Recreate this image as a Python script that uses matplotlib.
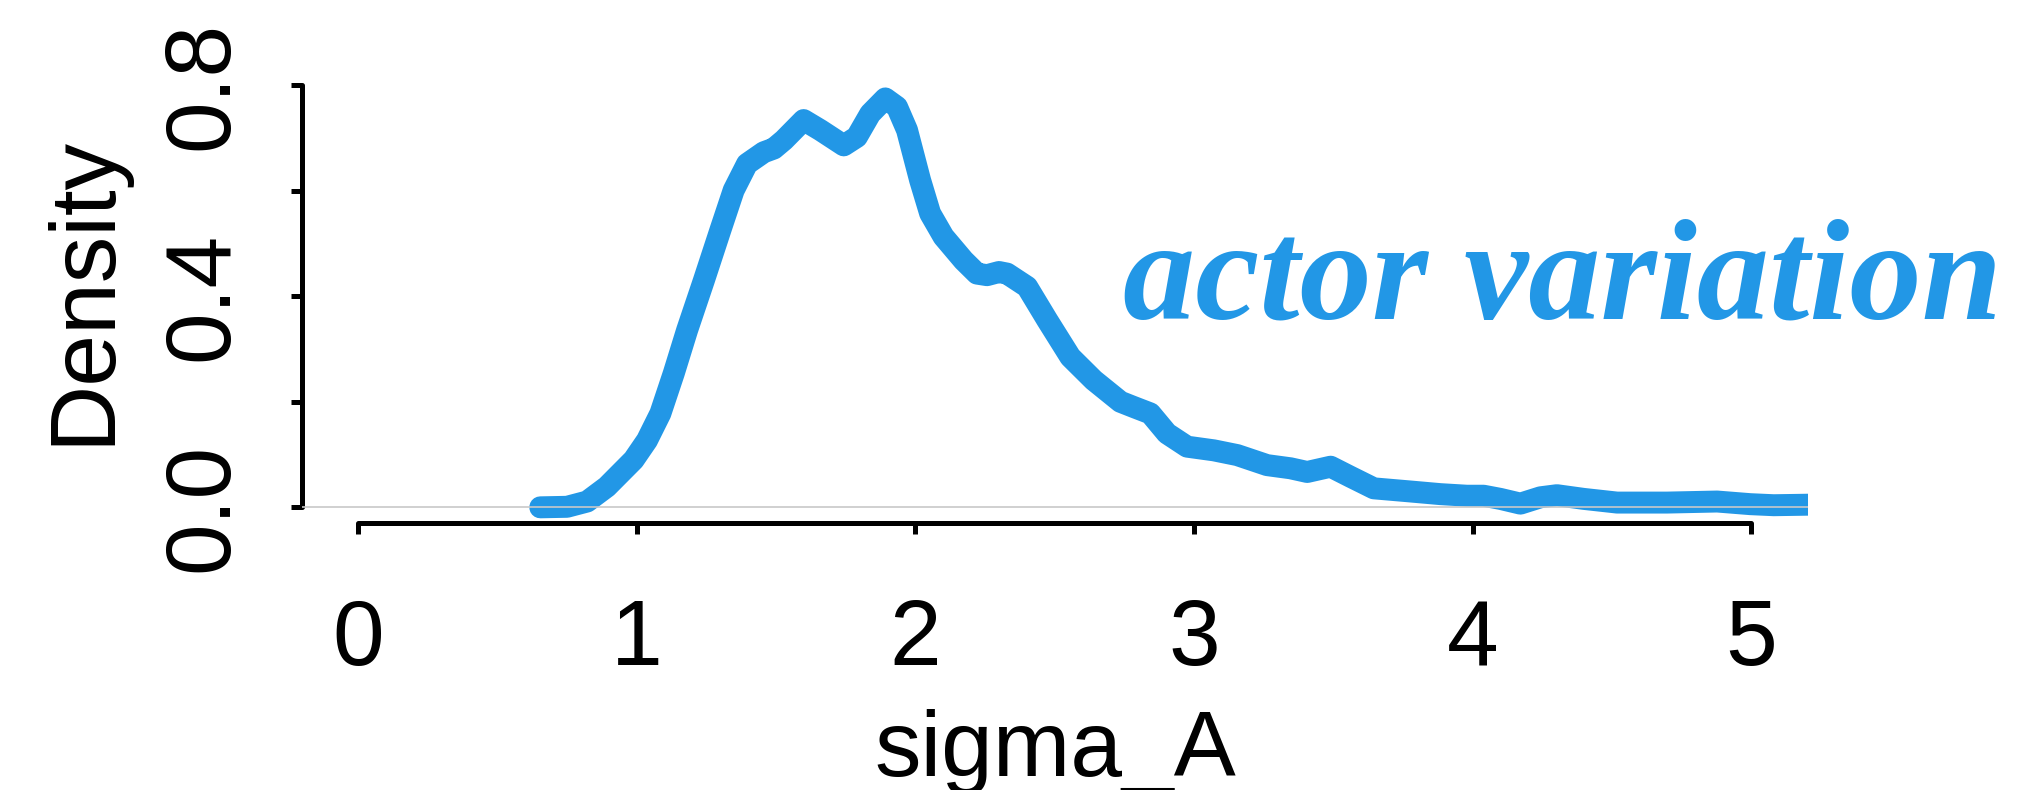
import matplotlib
matplotlib.use('Agg')
import matplotlib.pyplot as plt

# density of sigma_A
sigma_x = [0.654, 0.750, 0.822, 0.893, 0.989, 1.037, 1.085, 1.133, 1.181, 1.241,
           1.300, 1.348, 1.396, 1.456, 1.492, 1.528, 1.599, 1.659, 1.743, 1.790,
           1.838, 1.892, 1.934, 1.970, 2.017, 2.053, 2.101, 2.173, 2.221, 2.257,
           2.300, 2.329, 2.401, 2.473, 2.556, 2.640, 2.736, 2.784, 2.843, 2.903,
           2.975, 3.071, 3.155, 3.262, 3.346, 3.406, 3.490, 3.561, 3.645, 3.777,
           3.884, 3.979, 4.039, 4.099, 4.171, 4.243, 4.302, 4.398, 4.518, 4.697,
           4.877, 4.996, 5.080, 5.205]
density = [0.0, 0.001, 0.011, 0.039, 0.090, 0.127, 0.178, 0.254, 0.336, 0.430,
           0.525, 0.601, 0.651, 0.673, 0.680, 0.696, 0.734, 0.715, 0.686, 0.702,
           0.746, 0.775, 0.759, 0.715, 0.620, 0.557, 0.513, 0.468, 0.443, 0.440,
           0.446, 0.443, 0.418, 0.355, 0.285, 0.241, 0.200, 0.190, 0.178, 0.140,
           0.115, 0.108, 0.099, 0.080, 0.074, 0.067, 0.077, 0.058, 0.036, 0.030,
           0.025, 0.022, 0.022, 0.016, 0.007, 0.019, 0.023, 0.016, 0.009, 0.009,
           0.011, 0.006, 0.004, 0.005]

xticks = [0, 1, 2, 3, 4, 5]
yticks = [0.0, 0.2, 0.4, 0.6, 0.8]
ytick_labels = ['0.0', '', '0.4', '', '0.8']

blue = '#2297E6'
plt.rcParams['font.family'] = ['Liberation Sans', 'DejaVu Sans']

W, H = 2044, 790
fig = plt.figure(figsize=(W / 200, H / 200), dpi=200)
ax = fig.add_axes([302 / W, 1 - 523 / H, (1808 - 302) / W, (523 - 76) / H])

ax.plot(sigma_x, density, color=blue, lw=7.9, solid_capstyle='round',
        solid_joinstyle='round', zorder=2)
ax.axhline(0, color='#c8c8c8', lw=0.6, zorder=3)

ax.set_xlim(-0.201, 5.203)
ax.set_ylim(-0.0297, 0.8175)

for s in ['top', 'right']:
    ax.spines[s].set_visible(False)
ax.spines['left'].set_bounds(0, 0.8)
ax.spines['bottom'].set_bounds(0, 5)
for s in ['left', 'bottom']:
    ax.spines[s].set_linewidth(1.8)
    ax.spines[s].set_capstyle('round')

ax.set_xticks(xticks)
ax.set_xticklabels([str(t) for t in xticks])
ax.set_yticks(yticks)
ax.set_yticklabels(ytick_labels, rotation=90, va='center')
ax.tick_params(direction='out', length=4, width=1.8, labelsize=33.5)
ax.tick_params(axis='x', pad=23)
ax.tick_params(axis='y', pad=16)

ax.text(2.745, 0.357, 'actor variation', color=blue, fontsize=52,
        family='Liberation Serif', style='italic', weight='bold',
        ha='left', va='baseline')

fig.text(1055 / W, 1 - 776 / H, 'sigma_A', fontsize=33.5, ha='center', va='baseline')
fig.text(84 / W, 1 - 290 / H, 'Density', fontsize=33.5, rotation=90,
         ha='center', va='center')

fig.savefig('out.png', dpi=200)
